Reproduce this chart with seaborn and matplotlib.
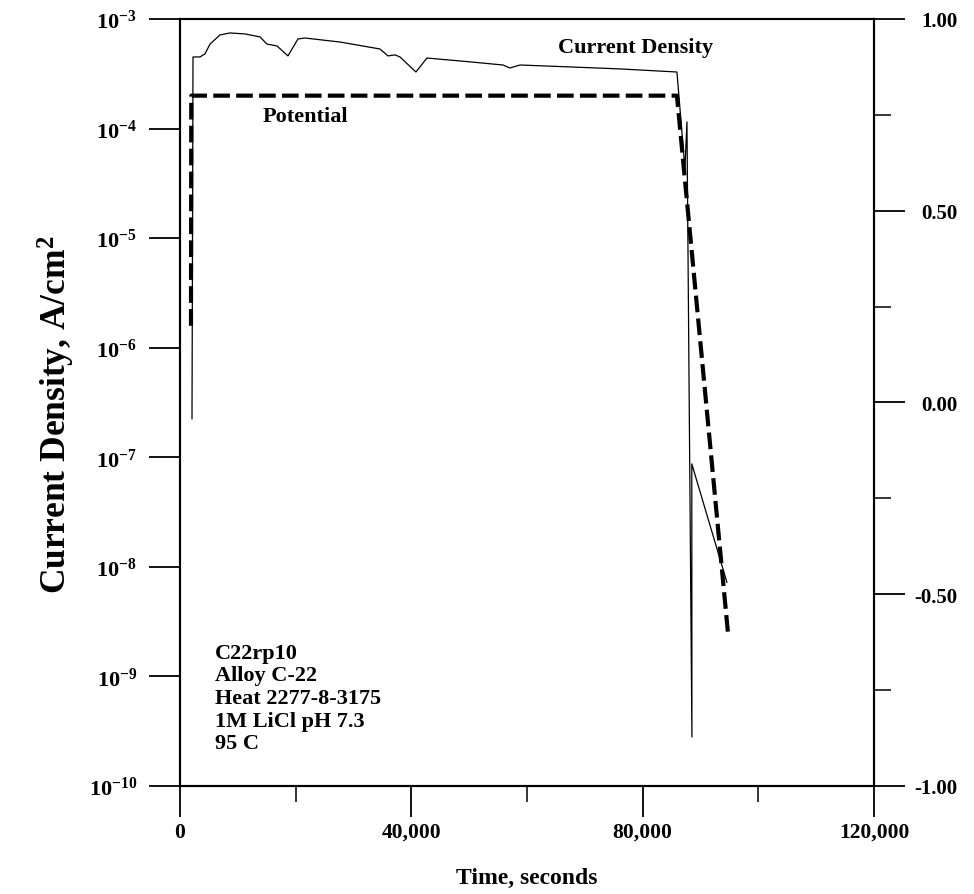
import numpy as np
import pandas as pd
import matplotlib
matplotlib.use('Agg')
import matplotlib.pyplot as plt
import seaborn as sns
from matplotlib.ticker import FixedLocator, NullLocator

# current density trace (seconds, A/cm2)
time_cd = [2075, 2250, 3460, 4320, 5190, 6920, 8650, 11240, 13830, 15040,
           16770, 18670, 20400, 21610, 27660, 34580, 35960, 37170, 38040,
           40800, 42700, 50140, 55850, 57060, 58790, 67430, 76080, 85930,
           87310, 87660, 88520, 88500, 94580]
current = [2.24e-7, 4.5e-4, 4.5e-4, 4.8e-4, 5.9e-4, 7.15e-4, 7.45e-4, 7.3e-4,
           6.86e-4, 5.9e-4, 5.67e-4, 4.6e-4, 6.57e-4, 6.7e-4, 6.16e-4,
           5.32e-4, 4.6e-4, 4.7e-4, 4.5e-4, 3.28e-4, 4.4e-4, 4.06e-4, 3.8e-4,
           3.57e-4, 3.8e-4, 3.65e-4, 3.5e-4, 3.28e-4, 4.3e-5, 1.15e-4,
           2.8e-10, 8.7e-8, 7.2e-9]

# applied potential (right axis)
time_pot = [1900, 1950, 85930, 94750]
potential = [0.2, 0.8, 0.8, -0.6]

x_ticks = [0, 40000, 80000, 120000]
x_labels = ['0', '40,000', '80,000', '120,000']
x_minor = [20000, 60000, 100000]
y_ticks = [1e-10, 1e-9, 1e-8, 1e-7, 1e-6, 1e-5, 1e-4, 1e-3]
y_labels = [r'$\mathbf{10^{-%d}}$' % k for k in range(10, 2, -1)]
pot_ticks = [-1.0, -0.5, 0.0, 0.5, 1.0]
pot_labels = ['-1.00', '-0.50', '0.00', '0.50', '1.00']
pot_minor = [-0.75, -0.25, 0.25, 0.75]

info = "C22rp10\nAlloy C-22\nHeat 2277-8-3175\n1M LiCl pH 7.3\n95 C"

sns.set_theme(style='ticks')
plt.rcParams['font.family'] = ['Liberation Serif', 'DejaVu Serif']
plt.rcParams['font.weight'] = 'bold'
plt.rcParams['axes.labelweight'] = 'bold'
plt.rcParams['text.color'] = 'black'
plt.rcParams['axes.labelcolor'] = 'black'
plt.rcParams['mathtext.fontset'] = 'custom'
plt.rcParams['mathtext.rm'] = 'Liberation Serif:bold'
plt.rcParams['mathtext.bf'] = 'Liberation Serif:bold'
plt.rcParams['mathtext.it'] = 'Liberation Serif:bold'

fig, ax = plt.subplots(figsize=(9.74, 8.95), dpi=100)
fig.subplots_adjust(left=0.1848, right=0.8973, top=0.9777, bottom=0.1207)

df_cd = pd.DataFrame({'t': time_cd, 'i': current})
sns.lineplot(data=df_cd, x='t', y='i', ax=ax, color='black', lw=0.9,
             estimator=None, sort=False)
ax.set_yscale('log')
ax.set_xlim(0, 120000)
ax.set_ylim(1e-10, 1e-3)

ax2 = ax.twinx()
df_pot = pd.DataFrame({'t': time_pot, 'E': potential})
sns.lineplot(data=df_pot, x='t', y='E', ax=ax2, color='black', lw=3.0,
             linestyle=(0, (4, 1.5)), estimator=None, sort=False)
ax2.set_ylim(-1, 1)
ax2.set_xlim(0, 120000)

# axes / ticks
ax.xaxis.set_major_locator(FixedLocator(x_ticks))
ax.set_xticklabels(x_labels)
ax.xaxis.set_minor_locator(FixedLocator(x_minor))
ax.yaxis.set_major_locator(FixedLocator(y_ticks))
ax.set_yticklabels(y_labels)
ax.yaxis.set_minor_locator(NullLocator())
ax.tick_params(axis='x', which='major', length=22, width=1.3, pad=4,
               labelsize=15.5, colors='black')
ax.tick_params(axis='x', which='minor', length=11.5, width=1.3)
ax.tick_params(axis='y', which='major', length=22, width=1.3, pad=9,
               labelsize=16, colors='black')

ax2.yaxis.set_major_locator(FixedLocator(pot_ticks))
ax2.set_yticklabels(pot_labels, ha='right')
ax2.yaxis.set_minor_locator(FixedLocator(pot_minor))
ax2.tick_params(axis='y', which='major', length=22, width=1.3, pad=38,
                labelsize=15, colors='black')
ax2.tick_params(axis='y', which='minor', length=12, width=1.3)
ax2.set_ylabel('')

for a in (ax, ax2):
    for s in a.spines.values():
        s.set_linewidth(1.5)
        s.set_color('black')
        s.set_visible(True)

ax.set_xlabel('Time, seconds', fontsize=17, labelpad=18)
ax.set_ylabel(r'Current Density, A/cm$^\mathbf{2}$', fontsize=25.5)
ax.yaxis.set_label_coords(-0.148, 0.485)

ax.text(78840, 5.6e-4, 'Current Density', fontsize=16, ha='center', va='center')
ax.text(21600, 1.3e-4, 'Potential', fontsize=16, ha='center', va='center')
ax.text(0.0504, 0.187, info, transform=ax.transAxes, fontsize=16,
        ha='left', va='top', linespacing=1.18)

fig.savefig('out.png', dpi=100)
